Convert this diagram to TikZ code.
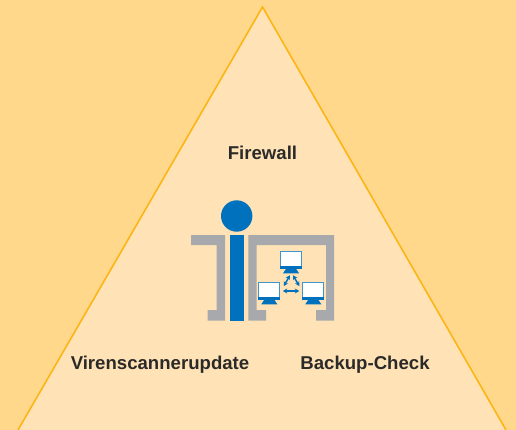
\documentclass[tikz,border=0pt]{standalone}
\usepackage{fontspec}
\setmainfont{Liberation Sans}
\usetikzlibrary{arrows.meta}
\definecolor{outerbg}{HTML}{FFD88B}
\definecolor{innerbg}{HTML}{FFE3B6}
\definecolor{edgeline}{HTML}{FDB515}
\definecolor{figblue}{HTML}{0071BC}
\definecolor{deskgray}{HTML}{A7A9AC}
\definecolor{labeltext}{HTML}{2B2A29}
\tikzset{
	area/.style={font=\bfseries\fontsize{18.6}{22}\selectfont, text=labeltext, inner sep=0pt},
	monitor/.style={draw=figblue!75!white, line width=1pt, fill=white, inner sep=0pt, minimum width=21pt, minimum height=16.5pt},
	link/.style={figblue, line width=1.5pt, {Stealth[length=4.5pt,width=5pt]}-{Stealth[length=4.5pt,width=5pt]}}
}
\begin{document}
\begin{tikzpicture}[x=1pt, y=-1pt]
	\useasboundingbox (0,0) rectangle (516,430);
	\fill[outerbg] (0,0) rectangle (516,430);
	\begin{scope}
		\clip (0,0) rectangle (516,430);
		\fill[innerbg] (262.5,7) -- (506,430) -- (18,430) -- cycle;
		\draw[edgeline, line width=1.6pt] (18,430) -- (262.5,7) -- (506,430);
	\end{scope}

	% person
	\fill[figblue] (236.7,216) circle[radius=15.7];
	\fill[figblue] (230,235) rectangle (243.5,320.7);

	% desk
	\fill[deskgray] (191,235) -- (225,235) -- (225,320.7) -- (207.7,320.7) -- (207.7,310) -- (216.7,310) -- (216.7,245) -- (191,245) -- cycle;
	\fill[deskgray] (248.3,235) -- (334,235) -- (334,320.7) -- (316,320.7) -- (316,310) -- (326,310) -- (326,245) -- (256.7,245) -- (256.7,310) -- (266,310) -- (266,320.7) -- (248.3,320.7) -- cycle;

	% monitors
	\node[monitor] (montop) at (291,260) {};
	\node[monitor] (monleft) at (269.3,291) {};
	\node[monitor] (monright) at (313.3,291) {};
	\foreach \mon in {montop, monleft, monright} {
		\fill[figblue] ([shift={(-11,-3)}]\mon.south) rectangle ([shift={(11,0.5)}]\mon.south);
		\fill[figblue] ([shift={(-5,0)}]\mon.south) -- ([shift={(5,0)}]\mon.south) -- ([shift={(8,4.5)}]\mon.south) -- ([shift={(-8,4.5)}]\mon.south) -- cycle;
	}
	\draw[link] ([shift={(-1,6.5)}]montop.south) -- ([shift={(3.5,3.8)}]monleft.north east);
	\draw[link] ([shift={(2,6.5)}]montop.south) -- ([shift={(-3,3.8)}]monright.north west);
	\draw[link] ([shift={(2.5,0)}]monleft.east) -- ([shift={(-3,0)}]monright.west);

	% labels
	\node[area] (firewall) at (262.5,153) {Firewall};
	\node[area] (virus) at (160,365) {Virenscannerupdate};
	\node[area] (backup) at (365,365) {Backup-Check};
\end{tikzpicture}
\end{document}
